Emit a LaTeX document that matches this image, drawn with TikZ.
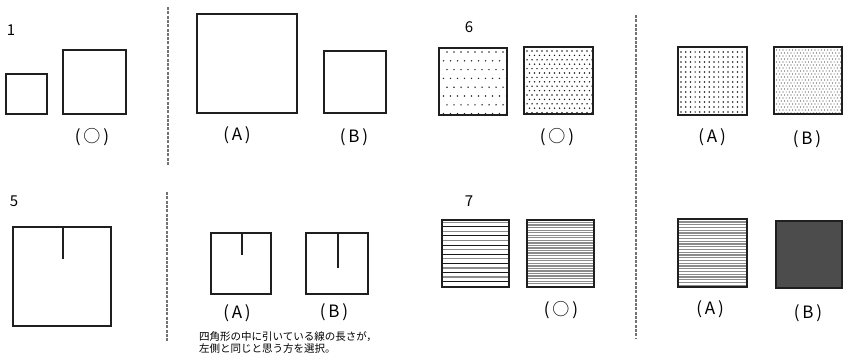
\documentclass[tikz,border=0pt]{standalone}
\usepackage{fontspec}
\newfontfamily\jp{Noto Sans CJK JP}
\begin{document}
\begin{tikzpicture}[x=1pt,y=-1pt,
  sq/.style={draw=black!88,line width=1.8pt},
  sqb/.style={draw=black!88,line width=2.3pt},
  lab/.style={font=\jp\fontsize{17}{17}\selectfont,inner sep=0pt},
  num/.style={font=\jp\fontsize{15}{15}\selectfont,inner sep=0pt},
  sep/.style={draw=black!55,line width=1.1pt,dash pattern=on 3pt off 1.3pt},
  mark5/.style={draw=black!88,line width=1.3pt}]
\useasboundingbox (0,0) rectangle (843,360);
\fill[white] (0,0) rectangle (843,360);
% separators
\draw[sep] (168,7) -- (168,166);
\draw[sep] (167,192) -- (167,342);
\draw[sep] (636,15) -- (636,338);
% ---- 1 ----
\node[num] (n1) at (11,30) {1};
\draw[sq] (6,74) rectangle (47,114);
\draw[sq] (63,50) rectangle (126,114);
\node[lab] (l1o) at (92,137) {(\,○\,)};
\draw[sq] (197,14) rectangle (297,113);
\node[lab] (l1a) at (237,135) {(\,A\,)};
\draw[sq] (324,51) rectangle (386,113);
\node[lab] (l1b) at (354,137) {(\,B\,)};
% ---- 6 ----
\node[num] (n6) at (469,27) {6};
\begin{scope}
\clip (439,48) rectangle (507,115);
\foreach \r in {0,...,8}{\foreach \c in {0,...,10}{
  \fill[black!85] ({443.5+\c*7+mod(\r,2)*(-3.5)+3.5},{52+\r*8.8}) circle (0.8);}}
\end{scope}
\draw[sqb] (439,48) rectangle (507,115);
\begin{scope}
\clip (524,47) rectangle (593,114);
\foreach \r in {0,...,15}{\foreach \c in {0,...,14}{
  \fill[black!90] ({527+\c*5+mod(\r,2)*2.5},{51+\r*4.4}) circle (0.8);}}
\end{scope}
\draw[sqb] (524,47) rectangle (593,114);
\node[lab] (l6o) at (557,137) {(\,○\,)};
\begin{scope}
\clip (678,47) rectangle (747,115);
\foreach \r in {0,...,14}{\foreach \c in {0,...,15}{
  \fill[black!90] ({681+\c*4.7},{52+\r*5})  circle (0.85);}}
\end{scope}
\draw[sqb] (678,47) rectangle (747,115);
\node[lab] (l6a) at (712,137) {(\,A\,)};
\begin{scope}
\clip (774,47) rectangle (842,114);
\foreach \r in {0,...,22}{\foreach \c in {0,...,21}{
  \fill[black!70] ({776.5+\c*3.2+mod(\r,2)*1.6},{50+\r*3}) circle (0.6);}}
\end{scope}
\draw[sqb] (774,47) rectangle (842,114);
\node[lab] (l6b) at (807,139) {(\,B\,)};
% ---- 5 ----
\node[num] (n5) at (14,201) {5};
\draw[sq] (13,227) rectangle (111,326);
\draw[mark5] (63,227) -- (63,259);
\draw[sq] (211,233) rectangle (271,294);
\draw[mark5] (242,233) -- (242,255);
\node[lab] (l5a) at (237,313) {(\,A\,)};
\draw[sq] (306,233) rectangle (368,294);
\draw[mark5] (338,233) -- (338,268);
\node[lab] (l5b) at (334,312) {(\,B\,)};
\node[font=\jp\fontsize{10.5}{11.5}\selectfont,inner sep=0pt,anchor=west,align=left] (txt) at (199,342.5)
  {四角形の中に引いている線の長さが，\\左側と同じと思う方を選択。};
% ---- 7 ----
\node[num] (n7) at (469,201) {7};
\foreach \i in {0,...,13}{
  \pgfmathtruncatemacro\odd{mod(\i,2)}
  \ifnum\odd=0
    \draw[black!45,line width=1.4pt] (442,{222.3+\i*4.55}) -- (509,{222.3+\i*4.55});
  \else
    \draw[black!90,line width=1pt] (442,{222.3+\i*4.55}) -- (509,{222.3+\i*4.55});
  \fi}
\draw[sqb] (442,220) rectangle (509,287);
\foreach \i in {0,...,24}{
  \draw[black!45,line width=1.3pt] (527,{222.5+\i*2.55}) -- (594,{222.5+\i*2.55});}
\draw[sqb] (527,220) rectangle (594,287);
\node[lab] (l7o) at (561,310) {(\,○\,)};
\foreach \i in {0,...,23}{
  \draw[black!45,line width=1.2pt] (678,{222+\i*2.75}) -- (747,{222+\i*2.75});}
\draw[sqb] (678,219) rectangle (747,287);
\node[lab] (l7a) at (710,309) {(\,A\,)};
\draw[sqb,fill=black!70] (776,221) rectangle (842,288);
\node[lab] (l7b) at (808,313) {(\,B\,)};
\end{tikzpicture}
\end{document}
